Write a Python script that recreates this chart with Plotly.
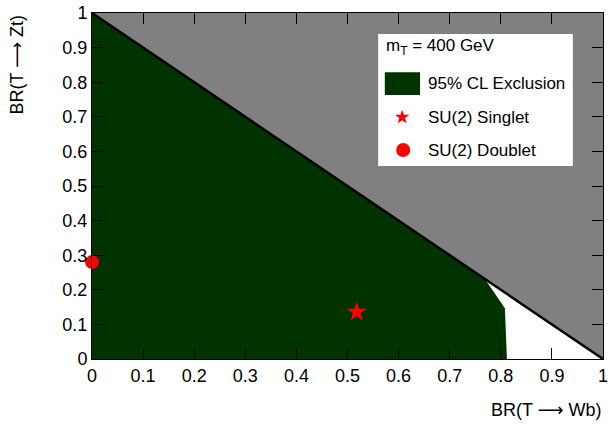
import math
import plotly.graph_objects as go

# Data
excl_x = [0.0, 0.0, 0.769, 0.788, 0.808, 0.812, 0.0]
excl_y = [0.0, 1.0, 0.231, 0.190, 0.147, 0.0, 0.0]
diag_x = [0.0, 1.0]
diag_y = [1.0, 0.0]
gray_x = [0.0, 1.0, 1.0, 0.0]
gray_y = [1.0, 1.0, 0.0, 1.0]
singlet = (0.518, 0.136)
doublet = (0.0, 0.280)

GREEN = "#003300"
GRAY = "#808080"
FONT = "Liberation Sans, Arial, sans-serif"
ARROW = "<span style='font-family:DejaVu Sans'>⟶</span>"

fig = go.Figure()
fig.add_trace(go.Scatter(x=gray_x, y=gray_y, fill="toself", fillcolor=GRAY,
                         line=dict(width=0), mode="lines", hoverinfo="skip", showlegend=False))
fig.add_trace(go.Scatter(x=excl_x, y=excl_y, fill="toself", fillcolor=GREEN,
                         line=dict(width=0), mode="lines", showlegend=False))
fig.add_trace(go.Scatter(x=diag_x, y=diag_y, mode="lines",
                         line=dict(color="black", width=2.5), showlegend=False))
fig.add_trace(go.Scatter(x=[singlet[0]], y=[singlet[1]], mode="markers",
                         marker=dict(symbol="star", size=15, color="red", line=dict(width=0)),
                         showlegend=False))
# doublet on an overlay subplot so it can sit over the axis without hiding ticks
fig.add_trace(go.Scatter(x=[doublet[0]], y=[doublet[1]], mode="markers", xaxis="x3", yaxis="y3",
                         marker=dict(symbol="circle", size=14, color="red", line=dict(width=0)),
                         cliponaxis=False, showlegend=False))

# star legend glyph path (pixel units, relative to anchor)
def star_path(r_out=7.5, r_in=3.0):
    pts = []
    for k in range(10):
        r = r_out if k % 2 == 0 else r_in
        a = math.pi / 2 + k * math.pi / 5
        pts.append((r * math.cos(a), r * math.sin(a)))
    return "M" + "L".join(f"{x:.2f},{y:.2f}" for x, y in pts) + "Z"

axis_common = dict(
    range=[0, 1], showgrid=False, zeroline=False, automargin=False,
    showline=True, linecolor="black", linewidth=1, mirror="ticks",
    ticks="inside", ticklen=11, tickwidth=1, tickcolor="black",
    tickmode="linear", tick0=0, dtick=0.1, tickformat="~g",
    tickfont=dict(family=FONT, size=18, color="black"),
    layer="above traces",
)
minor_common = dict(
    range=[0, 1], showgrid=False, zeroline=False, automargin=False,
    showline=False, mirror="ticks",
    ticks="inside", ticklen=6, tickwidth=1, tickcolor="black",
    tickmode="linear", tick0=0, dtick=0.02, showticklabels=False,
    layer="above traces",
)
hidden = dict(range=[0, 1], visible=False, automargin=False)

fig.update_layout(
    width=610, height=428,
    margin=dict(l=92, r=7, t=13, b=69),
    paper_bgcolor="white", plot_bgcolor="white",
    xaxis=dict(**axis_common),
    yaxis=dict(**axis_common),
    xaxis2=dict(overlaying="x", **minor_common),
    yaxis2=dict(overlaying="y", **minor_common),
    xaxis3=dict(overlaying="x", **hidden),
    yaxis3=dict(overlaying="y", **hidden),
    showlegend=False,
    shapes=[
        dict(type="rect", xref="paper", yref="paper", x0=0.560, x1=0.941, y0=0.558, y1=0.939,
             fillcolor="white", line=dict(width=0), layer="above"),
        dict(type="rect", xref="paper", yref="paper", x0=0.573, x1=0.642, y0=0.763, y1=0.829,
             fillcolor=GREEN, line=dict(width=0), layer="above"),
        dict(type="path", xref="paper", yref="paper", xsizemode="pixel", ysizemode="pixel",
             xanchor=0.607, yanchor=0.699, path=star_path(),
             fillcolor="red", line=dict(width=0), layer="above"),
        dict(type="circle", xref="paper", yref="paper", xsizemode="pixel", ysizemode="pixel",
             xanchor=0.609, yanchor=0.604, x0=-7, x1=7, y0=-7, y1=7,
             fillcolor="red", line=dict(width=0), layer="above"),
    ],
    annotations=[
        dict(text="m<sub>T</sub> = 400 GeV", xref="paper", yref="paper", x=0.571, y=0.902,
             xanchor="left", yanchor="middle", showarrow=False, font=dict(family=FONT, size=17, color="black")),
        dict(text="95% CL Exclusion", xref="paper", yref="paper", x=0.654, y=0.795,
             xanchor="left", yanchor="middle", showarrow=False, font=dict(family=FONT, size=17, color="black")),
        dict(text="SU(2) Singlet", xref="paper", yref="paper", x=0.654, y=0.699,
             xanchor="left", yanchor="middle", showarrow=False, font=dict(family=FONT, size=17, color="black")),
        dict(text="SU(2) Doublet", xref="paper", yref="paper", x=0.654, y=0.604,
             xanchor="left", yanchor="middle", showarrow=False, font=dict(family=FONT, size=17, color="black")),
        dict(text=f"BR(T {ARROW} Wb)", xref="paper", yref="paper", x=1.0, y=-0.147,
             xanchor="right", yanchor="middle", showarrow=False, font=dict(family=FONT, size=18, color="black")),
        dict(text=f"BR(T {ARROW} Zt)", xref="paper", yref="paper", x=-0.147, y=1.0, textangle=-90,
             xanchor="center", yanchor="top", showarrow=False, font=dict(family=FONT, size=18, color="black")),
    ],
)

fig.write_html("out.html")
